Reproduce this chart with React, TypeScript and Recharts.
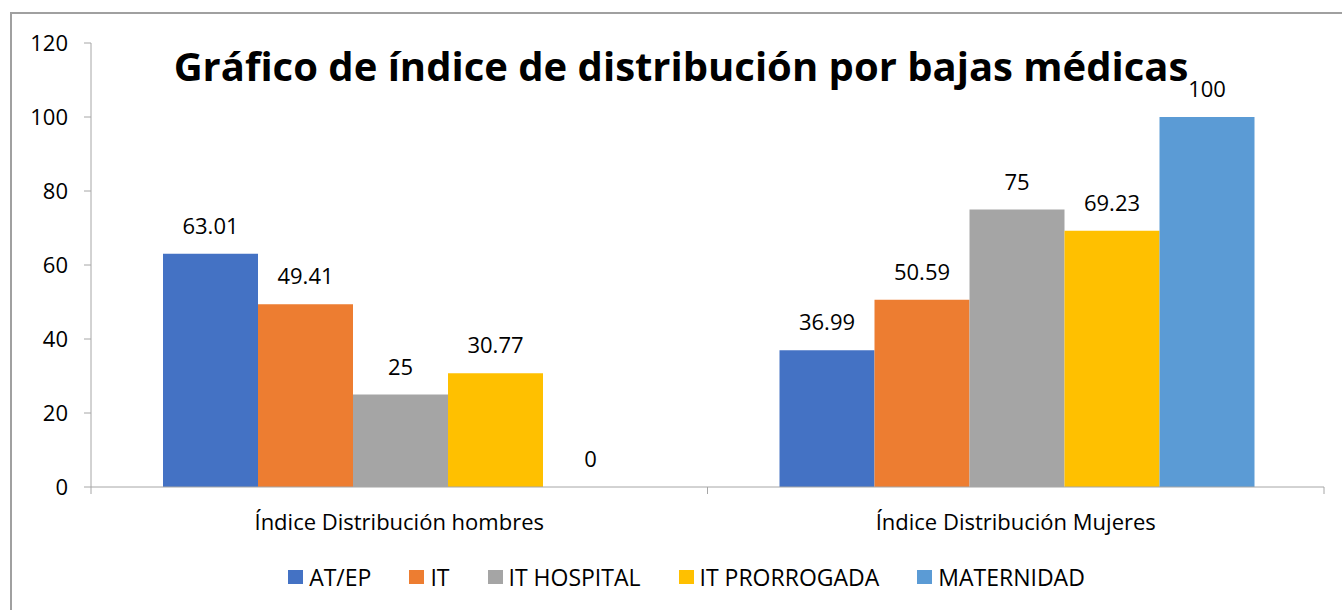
import { Bar, BarChart, LabelList, XAxis, YAxis } from "recharts";

const categories = ["Índice Distribución hombres", "Índice Distribución Mujeres"];
const atEp = [63.01, 36.99];
const it = [49.41, 50.59];
const itHospital = [25, 75];
const itProrrogada = [30.77, 69.23];
const maternidad = [0, 100];
const yTicks = [0, 20, 40, 60, 80, 100, 120];

const series = [
  { key: "atEp", name: "AT/EP", values: atEp, color: "#4472C4" },
  { key: "it", name: "IT", values: it, color: "#ED7D31" },
  { key: "itHospital", name: "IT HOSPITAL", values: itHospital, color: "#A5A5A5" },
  { key: "itProrrogada", name: "IT PRORROGADA", values: itProrrogada, color: "#FFC000" },
  { key: "maternidad", name: "MATERNIDAD", values: maternidad, color: "#5B9BD5" },
];

const data = categories.map((name, i) => {
  const row: Record<string, string | number> = { name };
  series.forEach((s) => (row[s.key] = s.values[i]));
  return row;
});

const FONT = "'Open Sans', sans-serif";
const AXIS = "#a6a6a6";
const TEXT_SIZE = 22;
const PLOT_LEFT = 91;
const PLOT_RIGHT = 1324;
const band = (PLOT_RIGHT - PLOT_LEFT) / categories.length;

// category tick: label under the band, tick marks on the band edges
function CategoryTick(props: any) {
  const { x, y, payload, index } = props;
  const left = x - band / 2;
  return (
    <g>
      <line x1={left} x2={left} y1={y} y2={y + 7} stroke={AXIS} />
      {index === categories.length - 1 && (
        <line x1={left + band} x2={left + band} y1={y} y2={y + 7} stroke={AXIS} />
      )}
      <text x={x} y={y + 43} textAnchor="middle" fontSize={TEXT_SIZE} fill="#000" fontFamily={FONT}>
        {payload.value}
      </text>
    </g>
  );
}

export default function App() {
  return (
    <div
      style={{
        position: "absolute",
        left: 0,
        top: 0,
        width: 1342,
        height: 610,
        overflow: "hidden",
        background: "#fff",
        fontFamily: FONT,
      }}
    >
      <div
        style={{
          position: "absolute",
          left: 10,
          top: 12,
          width: 1360,
          height: 640,
          border: "2px solid #a0a0a0",
        }}
      />
      <div
        style={{
          position: "absolute",
          left: 0,
          width: 1362,
          top: 38,
          textAlign: "center",
          fontSize: 40,
          fontWeight: 700,
          lineHeight: "56px",
          color: "#000",
        }}
      >
        Gráfico de índice de distribución por bajas médicas
      </div>
      <BarChart
        width={1342}
        height={610}
        data={data}
        margin={{ top: 43, right: 1342 - PLOT_RIGHT, bottom: 0, left: 0 }}
        barCategoryGap={72}
        barGap={0}
        style={{ position: "absolute", left: 0, top: 0 }}
      >
        <YAxis
          width={PLOT_LEFT}
          domain={[0, 120]}
          ticks={yTicks}
          interval={0}
          axisLine={{ stroke: AXIS }}
          tickLine={{ stroke: AXIS }}
          tickSize={7}
          tickMargin={16}
          tick={{ fontSize: TEXT_SIZE, fill: "#000", fontFamily: FONT }}
        />
        <XAxis
          dataKey="name"
          height={123}
          axisLine={{ stroke: AXIS }}
          tickLine={false}
          tickSize={0}
          tickMargin={0}
          interval={0}
          tick={<CategoryTick />}
        />
        {series.map((s) => (
          <Bar
            key={s.key}
            dataKey={s.key}
            name={s.name}
            fill={s.color}
            minPointSize={0.01}
            isAnimationActive={false}
          >
            <LabelList
              dataKey={s.key}
              position="top"
              offset={20}
              fontSize={TEXT_SIZE}
              fill="#000"
              fontFamily={FONT}
              formatter={(v: any) => String(v)}
            />
          </Bar>
        ))}
      </BarChart>
      <div
        style={{
          position: "absolute",
          left: 0,
          width: 1373,
          top: 562,
          display: "flex",
          justifyContent: "center",
          alignItems: "center",
          gap: 38,
          fontSize: 23,
          lineHeight: "30px",
          color: "#000",
        }}
      >
        {series.map((s) => (
          <div key={s.key} style={{ display: "flex", alignItems: "center" }}>
            <div style={{ width: 15, height: 14, background: s.color, marginRight: 6 }} />
            <span>{s.name}</span>
          </div>
        ))}
      </div>
    </div>
  );
}
